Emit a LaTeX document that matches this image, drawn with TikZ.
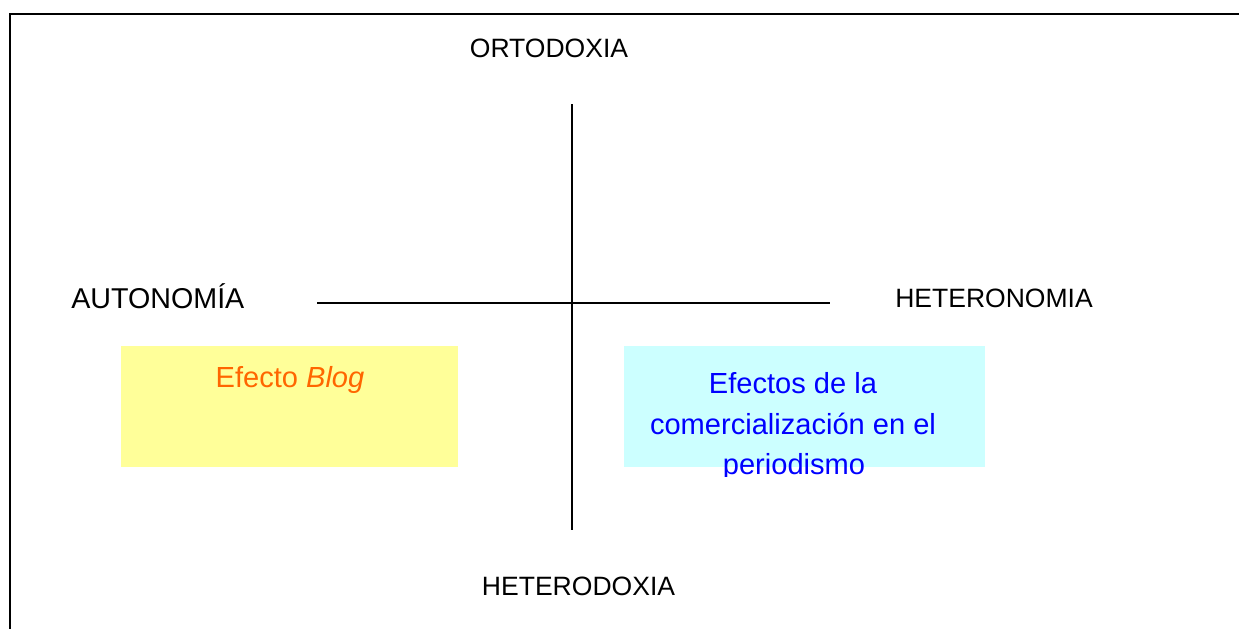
\documentclass[tikz,border=0pt]{standalone}
\usepackage{fontspec}
\setmainfont{Liberation Sans}
\usetikzlibrary{positioning}
\definecolor{blogfill}{HTML}{FFFF99}
\definecolor{blogtext}{HTML}{FF6600}
\definecolor{comfill}{HTML}{CCFFFF}
\definecolor{comtext}{HTML}{0000FF}

\begin{document}
\begin{tikzpicture}[x=0.75pt, y=-0.75pt, axis/.style={line width=1.1pt},
  pole/.style={font=\fontsize{19.9}{24}\selectfont, inner sep=0pt, anchor=base},
  boxtext/.style={font=\fontsize{21.8}{26}\selectfont, inner sep=0pt, anchor=base},
  quadrant/.style={inner sep=0pt, anchor=north west, minimum height=90.75pt}]
\useasboundingbox (0,0) rectangle (1239,629);
\draw[line width=1.5pt] (1239,14) -- (10,14) -- (10,629);

% quadrants
\node[quadrant, fill=blogfill, minimum width=252.75pt] (blog) at (121,346) {};
\node[quadrant, fill=comfill, minimum width=270.75pt] (com) at (624,346) {};

% axes
\coordinate (top) at (572,104);
\coordinate (bottom) at (572,530);
\coordinate (left) at (317,303);
\coordinate (right) at (830,303);
\draw[axis] (top) -- (bottom);
\draw[axis] (left) -- (right);

% poles
\node[pole] (orto) at (549,57) {ORTODOXIA};
\node[pole] (hetdox) at (578.5,595) {HETERODOXIA};
\node[pole, anchor=base west, font=\fontsize{21.5}{26}\selectfont] (auto) at (71,308) {AUTONOMÍA};
\node[pole, anchor=base west] (hetnom) at (895,307) {HETERONOMIA};

% box texts
\node[boxtext, text=blogtext] (blogtxt) at (290,387) {Efecto \textit{Blog}};
\node[boxtext, text=comtext] (com1) at (793,393) {Efectos de la};
\node[boxtext, text=comtext] (com2) at (793,434) {comercialización en el};
\begin{scope}
\clip (600,440) rectangle (1000,476);
\node[boxtext, text=comtext] (com3) at (794,474) {periodismo};
\end{scope}
\end{tikzpicture}
\end{document}
